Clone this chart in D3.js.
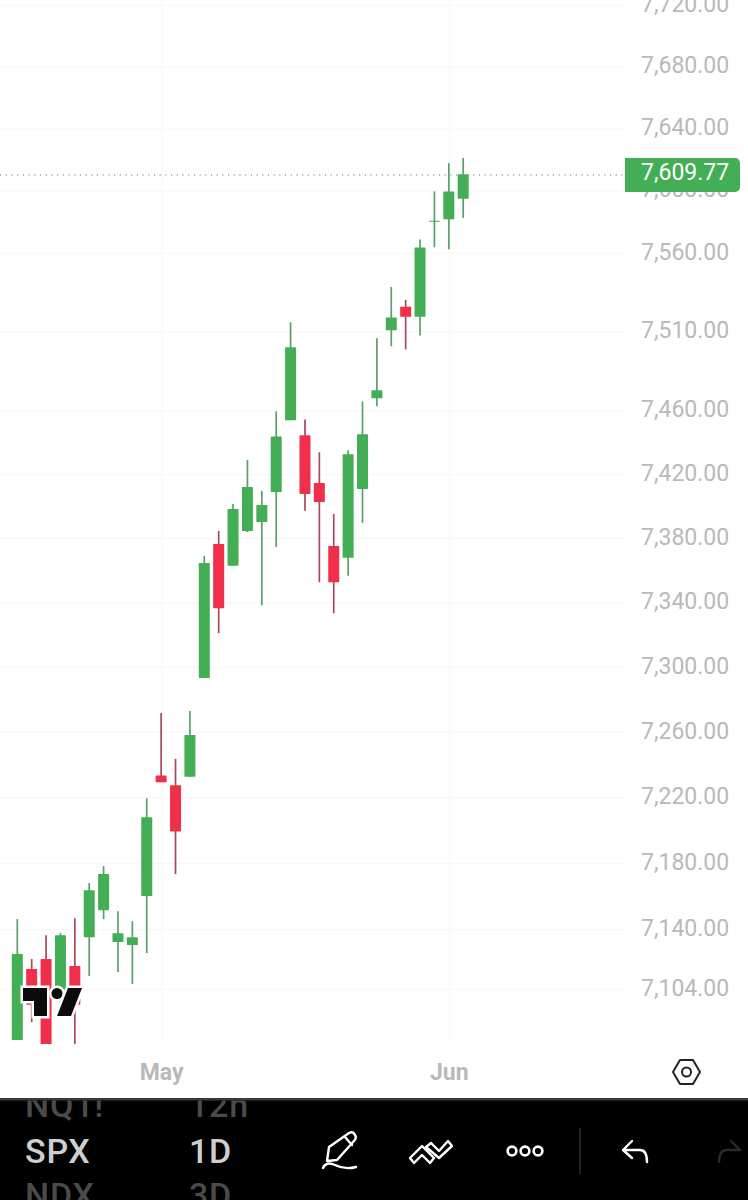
<!DOCTYPE html>
<html><head><meta charset="utf-8">
<style>html,body{margin:0;padding:0;background:#fff}svg{display:block}text{font-family:Roboto,sans-serif}</style>
<script src="https://cdn.jsdelivr.net/npm/d3@7"></script></head>
<body><svg id="c" width="748" height="1200"></svg>
<script>
const dates=["Apr 17","Apr 20","Apr 21","Apr 22","Apr 23","Apr 24","Apr 27","Apr 28","Apr 29","Apr 30","May","May 4","May 5","May 6","May 7","May 8","May 11","May 12","May 13","May 14","May 15","May 18","May 19","May 20","May 21","May 22","May 26","May 27","May 28","May 29","Jun","Jun 2"];
const opens=[7072.8,7115.4,7121.4,7096.8,7117.2,7134.6,7150.9,7131.6,7129.8,7159.4,7232.8,7226.7,7231.9,7292.6,7375.6,7362,7383.8,7389.4,7408.1,7453.1,7443.7,7413.8,7374.4,7367,7410,7467,7510,7525,7518.6,7579.3,7580.8,7594];
const highs=[7145.5,7121.4,7135.8,7137,7146,7167.3,7177.6,7150.3,7144.2,7218.8,7271,7242.9,7272.3,7368.2,7383.8,7400.6,7428.2,7408.8,7458.7,7515.1,7453.7,7433,7394.4,7434.3,7465,7505,7537.6,7529.4,7567.8,7598.7,7616.9,7620.2];
const lows=[7072.8,7083.6,7070.4,7095,7070.4,7111.2,7145.5,7113.6,7106.4,7125,7228.6,7172.7,7231.9,7292.6,7320.2,7362,7383.1,7337.5,7373.8,7453.1,7396.3,7351.8,7332.6,7355.9,7388.8,7462,7499.9,7498,7506.8,7562.9,7561.6,7581.7];
const closes=[7124.4,7094,7070.4,7135.8,7094,7163,7172.7,7137,7134.6,7207.2,7228.6,7198.6,7257.6,7363.8,7335.7,7397.5,7411.3,7400,7443,7499.2,7406.9,7401.9,7351.8,7431.8,7444.3,7472,7518.2,7518.6,7562.7,7579.9,7598.7,7609.77];
const priceTicks=[7104,7140,7180,7220,7260,7300,7340,7380,7420,7460,7510,7560,7600,7640,7680,7720];
const monthTicks=["May","Jun"];
const lastPrice=closes[closes.length-1];
const menuTop=["NQ1!","12h"],menuMid=["SPX","1D"],menuBot=["NDX","3D"];

const GREEN="#43ae55",RED="#f0304a";
const svg=d3.select("#c");
const x=d3.scalePoint().domain(dates).range([17.3,463.2]);
const y=d3.scaleLog().domain([7104,7720]).range([988,4]);
const fmt=d3.format(",.2f");

// grid
const grid=svg.append("g").attr("stroke","#f8f8f8").attr("stroke-width",1.2);
grid.selectAll("line.h").data(priceTicks).join("line").attr("class","h")
 .attr("x1",0).attr("x2",625).attr("y1",d=>y(d)+1.5).attr("y2",d=>y(d)+1.5);
grid.selectAll("line.v").data(monthTicks).join("line").attr("class","v")
 .attr("x1",d=>x(d)+1).attr("x2",d=>x(d)+1).attr("y1",0).attr("y2",1042);

// last price dotted line
svg.append("line").attr("x1",0).attr("x2",625).attr("y1",y(lastPrice)+.8).attr("y2",y(lastPrice)+.8)
 .attr("stroke","#6f7a72").attr("stroke-width",1).attr("stroke-dasharray","1.2 4.5");

// candles
const idx=d3.range(dates.length);
const g=svg.append("g");
g.selectAll("line.w").data(idx).join("line").attr("class","w")
 .attr("x1",i=>x(dates[i])).attr("x2",i=>x(dates[i]))
 .attr("y1",i=>y(highs[i])).attr("y2",i=>y(lows[i]))
 .attr("stroke",i=>closes[i]>=opens[i]?"#5c9e6a":"#a64a5c").attr("stroke-width",1.7);
g.selectAll("rect").data(idx).join("rect")
 .attr("x",i=>x(dates[i])-5.5).attr("width",11)
 .attr("y",i=>y(Math.max(opens[i],closes[i])))
 .attr("height",i=>Math.max(1,Math.abs(y(opens[i])-y(closes[i]))))
 .attr("rx",.6)
 .attr("fill",i=>closes[i]>=opens[i]?GREEN:RED);

// right axis
const ay=svg.append("g").attr("transform","translate(641,0)")
 .call(d3.axisRight(y).tickValues(priceTicks).tickFormat(fmt).tickSize(0).tickPadding(0));
ay.select(".domain").remove();
ay.selectAll("text").attr("fill","#b9b9b9").attr("font-size",23).attr("font-family","Roboto,sans-serif");

// price tag
svg.append("path").attr("fill",GREEN)
 .attr("d","M625,158H735a5,5 0 0 1 5,5V187a5,5 0 0 1 -5,5H625Z");
svg.append("text").attr("x",641).attr("y",y(lastPrice)-2).attr("dy",".34em").attr("fill","#fff")
 .attr("font-size",23).text(fmt(lastPrice));

// bottom axis
const ax=svg.append("g").attr("transform","translate(0,1072)")
 .call(d3.axisBottom(x).tickValues(monthTicks).tickSize(0).tickPadding(0));
ax.select(".domain").remove();
ax.selectAll("text").attr("dy",".36em").attr("fill","#b9b9b9").attr("font-size",23).attr("font-weight",700).attr("font-family","Roboto,sans-serif");

// settings hexagon
const ic=svg.append("g").attr("fill","none").attr("stroke","#222").attr("stroke-width",2).attr("stroke-linejoin","round");
ic.append("path").attr("d","M680,1060H693L700,1072L693,1084H680L673,1072Z");
ic.append("circle").attr("cx",686.5).attr("cy",1072).attr("r",4.5);

// TV logo with halo
const logo=svg.append("g").attr("fill","#0b0b0b").attr("stroke","#fff").attr("stroke-width",5).attr("paint-order","stroke");
logo.append("path").attr("d","M23,988H47V1016H34V1001H23Z");
logo.append("circle").attr("cx",57).attr("cy",993.5).attr("r",5.5);
logo.append("path").attr("d","M68,988H82L71,1016H57Z");

// bottom menu
svg.append("rect").attr("x",0).attr("y",1098).attr("width",748).attr("height",102).attr("fill","#000");
svg.append("rect").attr("x",0).attr("y",1098).attr("width",748).attr("height",2.5).attr("fill","#3a3a3a");
const menu=svg.append("g").attr("clip-path","url(#mc)");
svg.append("clipPath").attr("id","mc").append("rect").attr("x",0).attr("y",1100.5).attr("width",748).attr("height",100);
const rows=[[menuTop,1117,"#4a4a4a"],[menuMid,1163,"#cfcfcf"],[menuBot,1207,"#4a4a4a"]];
rows.forEach(([r,by,c])=>{
  menu.append("text").attr("x",25).attr("y",by).attr("fill",c).attr("font-size",34).attr("font-weight",500).attr("letter-spacing",.8).text(r[0]);
  menu.append("text").attr("x",189).attr("y",by).attr("fill",c).attr("font-size",34).attr("font-weight",500).attr("letter-spacing",.8).text(r[1]);
});
const ti=svg.append("g").attr("fill","none").attr("stroke","#fff").attr("stroke-width",2.4).attr("stroke-linecap","round").attr("stroke-linejoin","round");
ti.append("path").attr("d","M329,1147L349,1133Q353,1131 355,1135Q357,1138 354,1141L337,1160L327,1161Z");
ti.append("path").attr("d","M345,1137L352,1145");
ti.append("path").attr("d","M323,1168Q326,1161 335,1165Q345,1170 356,1167");
ti.append("path").attr("d","M410,1158L422,1146L434,1158M410,1158L414,1163L422,1155L430,1163L434,1158M431,1143L439,1151L448,1141L452,1146L439,1158L426,1147L431,1143");
[512,525,538].forEach(cx=>ti.append("circle").attr("cx",cx).attr("cy",1151).attr("r",4.4).attr("stroke-width",2.6));
svg.append("line").attr("x1",580).attr("x2",580).attr("y1",1128).attr("y2",1174).attr("stroke","#2e2e2e").attr("stroke-width",1.5);
ti.append("path").attr("d","M632,1141L623,1150L632,1158M623,1150H640Q647,1150 647,1162");
ti.append("path").attr("stroke","#2a2a2a").attr("d","M731,1141L740,1150M740,1150H727Q719,1150 719,1162");
</script></body></html>
